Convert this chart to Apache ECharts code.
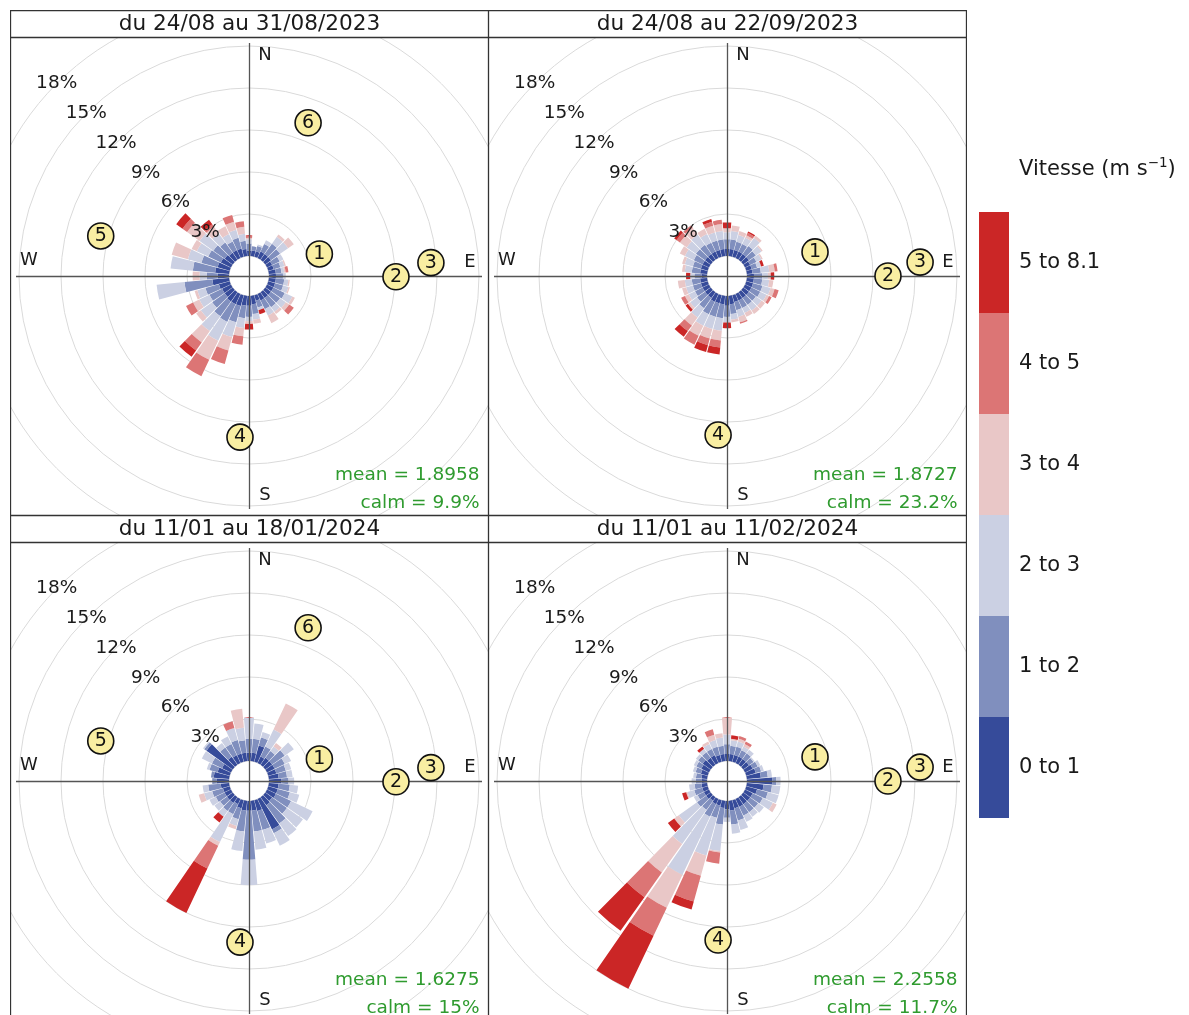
<!DOCTYPE html>
<html>
<head>
<meta charset="utf-8">
<script src="https://cdn.jsdelivr.net/npm/echarts@6/dist/echarts.min.js"></script>
<style>
  html, body { margin: 0; padding: 0; width: 1189px; height: 1015px; overflow: hidden; background: #fff; }
  .panel { position: absolute; }
</style>
</head>
<body>
<div id="p1" class="panel" style="left:10px;top:10px;width:479px;height:506px"></div>
<div id="p2" class="panel" style="left:488px;top:10px;width:479px;height:506px"></div>
<div id="p3" class="panel" style="left:10px;top:515px;width:479px;height:506px"></div>
<div id="p4" class="panel" style="left:488px;top:515px;width:479px;height:506px"></div>
<div id="leg" class="panel" style="left:966px;top:140px;width:223px;height:700px"></div>
<script>
// Wind direction sectors (degrees, centre of each 10° bin)
const directions = [10, 20, 30, 40, 50, 60, 70, 80, 90, 100, 110, 120,
  130, 140, 150, 160, 170, 180, 190, 200, 210, 220, 230, 240,
  250, 260, 270, 280, 290, 300, 310, 320, 330, 340, 350, 360];

// Speed classes (m/s) and their colours
const speedClasses = ['0 to 1', '1 to 2', '2 to 3', '3 to 4', '4 to 5', '5 to 8.1'];
const speedColours = ['#364b9a', '#808fbe', '#cbd0e3', '#e9c7c7', '#dc7575', '#cb2626'];

// Frequency circles (%)
const pctTicks = [3, 6, 9, 12, 15, 18];

// Frequencies (%) per direction, one column per speed class
// du 24/08 au 31/08/2023
const rose1 = [
  [0.4, 0.3, 0.0, 0.0, 0.0, 0.0], [0.4, 0.4, 0.1, 0.0, 0.0, 0.0], [0.5, 0.6, 0.3, 0.0, 0.0, 0.0],
  [0.5, 0.9, 0.6, 0.2, 0.0, 0.0], [0.5, 0.8, 0.7, 0.5, 0.0, 0.0], [0.4, 0.6, 0.3, 0.0, 0.0, 0.0],
  [0.4, 0.5, 0.3, 0.1, 0.0, 0.0], [0.5, 0.4, 0.2, 0.1, 0.2, 0.0], [0.5, 0.5, 0.2, 0.0, 0.0, 0.0],
  [0.5, 0.6, 0.3, 0.1, 0.0, 0.0], [0.5, 0.6, 0.4, 0.1, 0.0, 0.0], [0.5, 0.9, 0.6, 0.2, 0.0, 0.0],
  [0.5, 0.8, 0.5, 0.3, 0.4, 0.0], [0.5, 0.8, 0.4, 0.2, 0.0, 0.0], [0.5, 0.7, 0.5, 0.6, 0.0, 0.0],
  [0.4, 0.5, 0.2, 0.0, 0.0, 0.3], [0.6, 0.7, 0.4, 0.3, 0.0, 0.0], [0.7, 0.8, 0.3, 0.2, 0.0, 0.4],
  [0.7, 0.9, 0.7, 0.6, 0.6, 0.0], [0.8, 1.2, 1.1, 1.0, 1.0, 0.0], [0.8, 1.4, 1.5, 1.5, 1.3, 0.0],
  [0.8, 1.3, 1.3, 1.0, 0.7, 0.55], [0.7, 1.1, 1.0, 0.4, 0.0, 0.0], [0.7, 1.0, 0.8, 0.5, 0.55, 0.0],
  [0.8, 1.0, 0.6, 0.2, 0.0, 0.0], [1.2, 2.0, 2.0, 0.0, 0.0, 0.0], [0.8, 0.8, 0.5, 0.5, 0.0, 0.0],
  [1.0, 1.6, 1.6, 0.0, 0.0, 0.0], [0.9, 1.2, 1.0, 1.2, 0.0, 0.0], [0.8, 1.0, 0.9, 0.4, 0.0, 0.0],
  [0.7, 1.0, 1.2, 1.1, 0.4, 0.55], [0.6, 0.9, 0.8, 0.6, 0.2, 0.4], [0.6, 0.7, 0.6, 0.6, 0.0, 0.0],
  [0.6, 0.8, 0.6, 0.6, 0.5, 0.0], [0.5, 0.6, 0.5, 0.5, 0.4, 0.0], [0.4, 0.5, 0.3, 0.1, 0.2, 0.0]
];
// du 24/08 au 22/09/2023
const rose2 = [
  [0.5, 0.7, 0.6, 0.4, 0.0, 0.0], [0.5, 0.6, 0.5, 0.3, 0.0, 0.0], [0.5, 0.6, 0.5, 0.2, 0.2, 0.1],
  [0.5, 0.7, 0.7, 0.2, 0.0, 0.0], [0.5, 0.6, 0.5, 0.1, 0.0, 0.0], [0.4, 0.5, 0.4, 0.1, 0.0, 0.0],
  [0.4, 0.4, 0.3, 0.0, 0.0, 0.2], [0.4, 0.6, 0.6, 0.4, 0.2, 0.0], [0.5, 0.6, 0.4, 0.2, 0.0, 0.25],
  [0.5, 0.6, 0.5, 0.3, 0.0, 0.0], [0.5, 0.7, 0.6, 0.3, 0.3, 0.0], [0.5, 0.7, 0.5, 0.2, 0.2, 0.0],
  [0.5, 0.6, 0.5, 0.3, 0.0, 0.0], [0.5, 0.6, 0.5, 0.3, 0.0, 0.0], [0.5, 0.6, 0.4, 0.3, 0.0, 0.0],
  [0.5, 0.6, 0.5, 0.4, 0.1, 0.0], [0.6, 0.7, 0.4, 0.2, 0.0, 0.0], [0.7, 0.8, 0.4, 0.0, 0.0, 0.4],
  [0.6, 1.0, 0.9, 0.7, 0.5, 0.5], [0.6, 1.0, 0.9, 0.7, 0.5, 0.5], [0.6, 1.0, 0.9, 0.8, 0.7, 0.0],
  [0.5, 0.9, 0.8, 0.7, 0.5, 0.5], [0.5, 0.7, 0.6, 0.2, 0.0, 0.2], [0.5, 0.6, 0.5, 0.3, 0.3, 0.0],
  [0.5, 0.6, 0.5, 0.3, 0.0, 0.0], [0.5, 0.6, 0.5, 0.5, 0.0, 0.0], [0.4, 0.5, 0.3, 0.0, 0.0, 0.3],
  [0.5, 0.6, 0.5, 0.2, 0.0, 0.0], [0.5, 0.6, 0.6, 0.2, 0.0, 0.0], [0.5, 0.7, 0.7, 0.4, 0.0, 0.0],
  [0.5, 0.8, 0.8, 0.6, 0.3, 0.2], [0.5, 0.8, 0.9, 0.6, 0.2, 0.0], [0.5, 0.7, 0.7, 0.4, 0.0, 0.0],
  [0.5, 0.7, 0.6, 0.5, 0.3, 0.2], [0.5, 0.7, 0.6, 0.5, 0.3, 0.0], [0.5, 0.7, 0.5, 0.3, 0.0, 0.4]
];
// du 11/01 au 18/01/2024
const rose3 = [
  [0.6, 1.0, 1.1, 0.0, 0.0, 0.0], [1.2, 0.6, 0.4, 0.0, 0.0, 0.0], [0.5, 0.8, 1.35, 2.05, 0.0, 0.0],
  [0.6, 0.6, 0.4, 0.3, 0.0, 0.0], [0.6, 1.1, 0.8, 0.0, 0.0, 0.0], [0.6, 0.8, 0.5, 0.0, 0.0, 0.0],
  [0.6, 0.7, 0.4, 0.0, 0.0, 0.0], [0.7, 0.6, 0.4, 0.0, 0.0, 0.0], [0.9, 0.5, 0.4, 0.0, 0.0, 0.0],
  [0.7, 0.8, 0.6, 0.0, 0.0, 0.0], [0.7, 0.9, 0.7, 0.0, 0.0, 0.0], [0.7, 1.2, 1.7, 0.0, 0.0, 0.0],
  [0.6, 1.3, 1.4, 0.0, 0.0, 0.0], [0.7, 1.6, 1.1, 0.0, 0.0, 0.0], [2.4, 0.3, 1.0, 0.0, 0.0, 0.0],
  [0.8, 1.4, 1.0, 0.0, 0.0, 0.0], [0.7, 1.5, 1.3, 0.0, 0.0, 0.0], [0.7, 3.5, 1.8, 0.0, 0.0, 0.0],
  [0.7, 1.5, 1.4, 0.0, 0.0, 0.0], [0.6, 0.8, 0.5, 0.25, 0.0, 0.0], [0.4, 0.8, 2.2, 0.3, 1.8, 3.5],
  [0.5, 0.7, 0.5, 0.0, 0.0, 0.5], [0.5, 0.6, 0.5, 0.0, 0.0, 0.0], [0.5, 0.7, 0.5, 0.0, 0.0, 0.0],
  [0.5, 0.8, 0.6, 0.4, 0.0, 0.0], [0.6, 0.9, 0.4, 0.0, 0.0, 0.0], [0.9, 0.3, 0.0, 0.0, 0.0, 0.0],
  [1.1, 0.2, 0.0, 0.0, 0.0, 0.0], [0.9, 0.6, 0.2, 0.0, 0.0, 0.0], [0.7, 0.8, 0.8, 0.0, 0.0, 0.0],
  [2.3, 0.2, 0.1, 0.0, 0.0, 0.0], [0.7, 0.8, 0.4, 0.0, 0.0, 0.0], [0.6, 0.9, 0.6, 0.0, 0.0, 0.0],
  [0.6, 1.0, 0.9, 0.0, 0.5, 0.0], [0.6, 0.9, 0.9, 1.35, 0.0, 0.0], [0.6, 1.0, 1.5, 0.0, 0.0, 0.0]
];
// du 11/01 au 11/02/2024
const rose4 = [
  [0.5, 0.6, 0.4, 0.1, 0.0, 0.25], [0.5, 0.6, 0.4, 0.2, 0.2, 0.0], [0.5, 0.5, 0.3, 0.2, 0.2, 0.0],
  [0.5, 0.5, 0.3, 0.0, 0.0, 0.0], [0.5, 0.4, 0.1, 0.0, 0.0, 0.0], [0.6, 0.4, 0.2, 0.0, 0.0, 0.0],
  [0.7, 0.4, 0.2, 0.0, 0.0, 0.0], [1.0, 0.5, 0.3, 0.0, 0.0, 0.0], [1.8, 0.3, 0.3, 0.0, 0.0, 0.0],
  [1.2, 0.6, 0.6, 0.0, 0.0, 0.0], [0.8, 0.8, 0.8, 0.0, 0.0, 0.0], [0.6, 0.8, 0.8, 0.3, 0.0, 0.0],
  [0.6, 0.7, 0.5, 0.0, 0.0, 0.0], [0.6, 0.7, 0.4, 0.0, 0.0, 0.0], [0.6, 0.7, 0.5, 0.0, 0.0, 0.0],
  [0.6, 0.9, 0.7, 0.0, 0.0, 0.0], [0.7, 1.0, 0.65, 0.0, 0.0, 0.0], [0.6, 0.6, 0.3, 0.0, 0.0, 0.0],
  [0.5, 1.2, 1.9, 0.1, 0.8, 0.0], [0.4, 0.9, 2.8, 1.5, 1.9, 0.6], [0.4, 1.0, 4.6, 2.6, 2.2, 4.2],
  [0.3, 0.8, 3.0, 2.5, 2.15, 2.95], [0.4, 0.8, 1.6, 0.4, 0.0, 0.55], [0.4, 0.5, 0.3, 0.0, 0.0, 0.0],
  [0.4, 0.6, 0.5, 0.1, 0.0, 0.3], [0.4, 0.5, 0.4, 0.0, 0.0, 0.0], [0.4, 0.4, 0.3, 0.0, 0.0, 0.0],
  [0.4, 0.4, 0.2, 0.0, 0.0, 0.0], [0.5, 0.4, 0.2, 0.0, 0.0, 0.0], [0.6, 0.4, 0.2, 0.0, 0.0, 0.0],
  [0.7, 0.4, 0.2, 0.0, 0.0, 0.0], [0.6, 0.5, 0.3, 0.0, 0.0, 0.2], [0.6, 0.5, 0.4, 0.2, 0.0, 0.0],
  [0.5, 0.6, 0.5, 0.4, 0.4, 0.0], [0.5, 0.6, 0.6, 0.3, 0.0, 0.0], [0.5, 0.7, 0.7, 1.2, 0.0, 0.0]
];

// Numbered sites: [label, distance on the % scale, bearing in degrees]
const sitesA = [['1', 3.84, 72.6], ['2', 9.07, 90.3], ['3', 11.6, 85.8], ['4', 10.1, 183.2], ['5', 9.54, 285.1], ['6', 10.3, 21.1]];
const sitesB = [['1', 5.09, 74.7], ['2', 10.07, 90], ['3', 12.4, 85.9], ['4', 9.95, 183.2]];

const titles = ['du 24/08 au 31/08/2023', 'du 24/08 au 22/09/2023', 'du 11/01 au 18/01/2024', 'du 11/01 au 11/02/2024'];
const meanSpeed = ['1.8958', '1.8727', '1.6275', '2.2558'];
const calmPct = ['9.9%', '23.2%', '15%', '11.7%'];

const FONT = 'DejaVu Sans';
const W = 479, H = 506, STRIP = 27;
const CX = 239, CY = 266, R0 = 20, R1 = 272;
const INK = '#1a1a1a';
const TICK_BEARING = 315;

function textStyle(text, size, fill, align) {
  return { text: text, fontFamily: FONT, fontSize: size, fill: fill, align: align || 'center', verticalAlign: 'middle' };
}

function frameGraphics(title, mean, calm) {
  return [
    // title strip
    { type: 'rect', z: 30, shape: { x: 0, y: 0, width: W, height: STRIP }, style: { fill: '#fff' } },
    { type: 'line', z: 31, shape: { x1: 0, y1: STRIP + 0.5, x2: W, y2: STRIP + 0.5 }, style: { stroke: '#333', lineWidth: 1.3 } },
    { type: 'text', z: 31, x: W / 2, y: STRIP / 2 + 0.5, style: textStyle(title, 21.6, INK) },
    // crosshair through the centre
    { type: 'line', z: 8, shape: { x1: CX - 233, y1: CY + 0.5, x2: CX + 233, y2: CY + 0.5 }, style: { stroke: '#555', lineWidth: 1.3 } },
    { type: 'line', z: 8, shape: { x1: CX + 0.5, y1: CY - 233, x2: CX + 0.5, y2: CY + 233 }, style: { stroke: '#555', lineWidth: 1.3 } },
    // compass letters
    { type: 'text', z: 9, x: CX + 16, y: CY - 221, style: textStyle('N', 18, INK) },
    { type: 'text', z: 9, x: CX + 16, y: CY + 219, style: textStyle('S', 18, INK) },
    { type: 'text', z: 9, x: CX - 220, y: CY - 16, style: textStyle('W', 18, INK) },
    { type: 'text', z: 9, x: CX + 221, y: CY - 14, style: textStyle('E', 18, INK) },
    // statistics
    { type: 'text', z: 9, x: 469.5, y: 465, style: textStyle('mean = ' + mean, 18.5, '#2f9b2f', 'right') },
    { type: 'text', z: 9, x: 469.5, y: 493, style: textStyle('calm = ' + calm, 18.5, '#2f9b2f', 'right') },
    // panel frame
    { type: 'rect', z: 40, shape: { x: 0.5, y: 0.5, width: W - 1, height: H - 1 }, style: { fill: 'none', stroke: '#333', lineWidth: 1.3 } }
  ];
}

function panelOption(rose, sites) {
  const series = speedClasses.map((name, k) => ({
    type: 'bar',
    name: name,
    coordinateSystem: 'polar',
    polarIndex: 0,
    stack: 'speed',
    barCategoryGap: '8%',
    data: rose.map(row => row[k]),
    itemStyle: { color: speedColours[k] },
    silent: true,
    z: 2
  }));
  series.push({
    type: 'scatter',
    coordinateSystem: 'polar',
    polarIndex: 1,
    data: sites.map(s => ({ name: s[0], value: [s[1], s[2]] })),
    symbol: 'circle',
    symbolSize: 26,
    itemStyle: { color: '#f9eea2', borderColor: '#111', borderWidth: 1.6, opacity: 1 },
    label: {
      show: true, position: 'inside',
      formatter: p => p.name,
      fontFamily: FONT, fontSize: 19, color: '#111'
    },
    silent: true,
    z: 12
  });

  const hidden = { axisLine: { show: false }, axisTick: { show: false }, axisLabel: { show: false } };

  return {
    animation: false,
    polar: [
      { center: [CX, CY], radius: [R0, R1] },
      { center: [CX, CY], radius: [R0, R1] }
    ],
    angleAxis: [
      Object.assign({ polarIndex: 0, type: 'category', data: directions, startAngle: 85, clockwise: true,
        splitLine: { show: false }, splitArea: { show: false } }, hidden),
      Object.assign({ polarIndex: 1, type: 'value', min: 0, max: 360, startAngle: 90, clockwise: true,
        splitLine: { show: false }, splitArea: { show: false } }, hidden)
    ],
    radiusAxis: [
      Object.assign({ polarIndex: 0, type: 'value', min: 0, max: 18, splitLine: { show: false } }, hidden),
      Object.assign({ polarIndex: 1, type: 'value', min: 0, max: 18, interval: 3,
        splitLine: { show: true, showMinLine: false, lineStyle: { color: '#dadada', width: 1 } } }, hidden)
    ],
    series: series
  };
}

const panels = [
  ['p1', rose1, sitesA], ['p2', rose2, sitesB], ['p3', rose3, sitesA], ['p4', rose4, sitesB]
];
panels.forEach((p, i) => {
  const chart = echarts.init(document.getElementById(p[0]), null, { renderer: 'canvas' });
  chart.setOption(panelOption(p[1], p[2]));
  // frequency labels sit on their circles along the north-west diagonal
  const siteSeries = speedClasses.length;
  const tickLabels = [];
  pctTicks.forEach(t => {
    const pt = chart.convertToPixel({ seriesIndex: siteSeries }, [t, TICK_BEARING]);
    if (pt) tickLabels.push({ type: 'text', z: 9, x: pt[0], y: pt[1], style: textStyle(t + '%', 18.5, INK) });
  });
  chart.setOption({ graphic: frameGraphics(titles[i], meanSpeed[i], calmPct[i]).concat(tickLabels) });
});

// Colour key for the speed classes
const legend = echarts.init(document.getElementById('leg'), null, { renderer: 'canvas' });
const KEY_X = 13, KEY_TOP = 72, KEY_W = 30, KEY_H = 101;
const keyGraphics = [
  { type: 'text', x: 53, y: 30,
    style: {
      text: '{a|Vitesse (m s}{sup|\u22121}{a|)}',
      fontFamily: FONT, fontSize: 21, fill: INK, align: 'left', verticalAlign: 'middle',
      rich: {
        a: { fontFamily: FONT, fontSize: 21, fill: INK, lineHeight: 28, verticalAlign: 'middle' },
        sup: { fontFamily: FONT, fontSize: 13.5, fill: INK, lineHeight: 14, verticalAlign: 'top' }
      }
    } }
];
speedClasses.slice().reverse().forEach((name, j) => {
  const k = speedClasses.length - 1 - j;
  keyGraphics.push({ type: 'rect', shape: { x: KEY_X, y: KEY_TOP + j * KEY_H, width: KEY_W, height: KEY_H }, style: { fill: speedColours[k] } });
  keyGraphics.push({ type: 'text', x: 53, y: KEY_TOP + j * KEY_H + KEY_H / 2, style: textStyle(name, 21, INK, 'left') });
});
legend.setOption({ animation: false, graphic: keyGraphics });
</script>
</body>
</html>
